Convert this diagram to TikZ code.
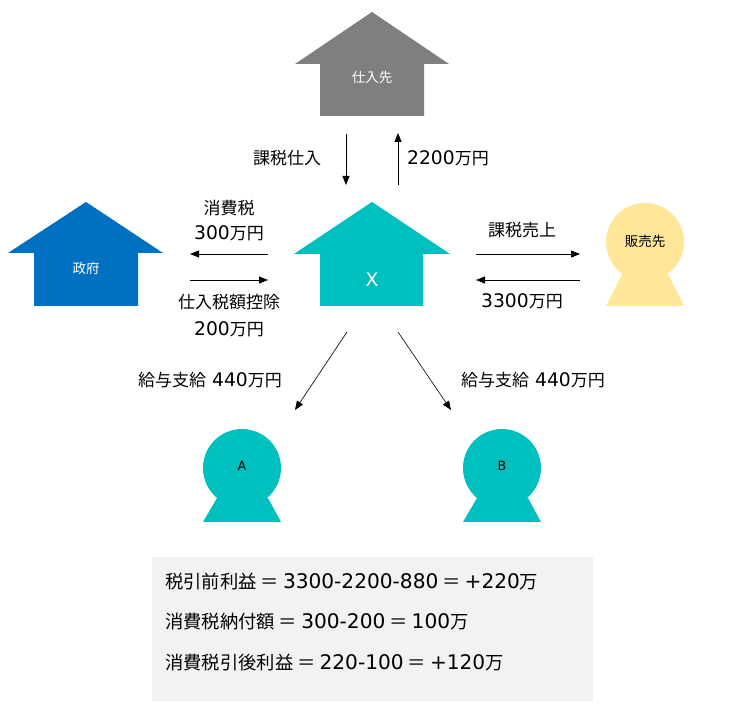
\documentclass[tikz,border=0pt]{standalone}
\usepackage{fontspec}
\setmainfont{DejaVu Sans}[Scale=1.1]
\newfontfamily\cjk{Noto Sans CJK JP}
\usetikzlibrary{arrows.meta}
\newcommand\J[1]{{\cjk #1}}
\newcommand\EQ{\hspace{4pt}{\cjk ＝}\hspace{4pt}}
\definecolor{hgray}{HTML}{7F7F7F}
\definecolor{hblue}{HTML}{0070C0}
\definecolor{hteal}{HTML}{00BFBF}
\definecolor{hyellow}{HTML}{FFE699}
\definecolor{boxgray}{HTML}{F2F2F2}
\tikzset{
  flow/.style={-{Triangle[length=9pt,width=7pt]}, line width=0.8pt, black},
  lab/.style={font=\fontsize{17}{20}\selectfont, inner sep=0pt, text=black},
  inlab/.style={font=\fontsize{13.5}{16}\selectfont, inner sep=0pt},
  sumline/.style={font=\fontsize{18.3}{22}\selectfont, inner sep=0pt, anchor=west, text=black},
}
\begin{document}
\begin{tikzpicture}[x=1pt,y=-1pt]
\useasboundingbox (0,0) rectangle (732,708);
% houses
\fill[hgray] (372,12) -- (449,64) -- (424,64) -- (424,116) -- (320,116) -- (320,64) -- (295,64) -- cycle;
\fill[hblue] (86,202) -- (163,253) -- (138,253) -- (138,306) -- (34,306) -- (34,253) -- (8,253) -- cycle;
\fill[hteal] (372,202) -- (450,254) -- (423,254) -- (423,306) -- (320,306) -- (320,254) -- (294,254) -- cycle;
\node[inlab, text=white] (shiire) at (372,77) {\J{仕入先}};
\node[inlab, text=white] (seifu) at (86,268) {\J{政府}};
\node[font=\fontsize{17}{20}\selectfont, inner sep=0pt, text=white] (X) at (372,280) {X};
% persons
\fill[hyellow] (645,242) circle (39);
\fill[hyellow] (622,274) -- (668,274) -- (684,306) -- (606,306) -- cycle;
\node[inlab, text=black] (hanbai) at (645,241) {\J{販売先}};
\fill[hteal] (242,468) circle (39);
\fill[hteal] (217,498) -- (268,498) -- (281,522) -- (203,522) -- cycle;
\node[font=\fontsize{11.5}{14}\selectfont, inner sep=0pt] (A) at (242,466) {A};
\fill[hteal] (502,468) circle (39);
\fill[hteal] (477,498) -- (528,498) -- (541,522) -- (463,522) -- cycle;
\node[font=\fontsize{11.5}{14}\selectfont, inner sep=0pt] (B) at (502,466) {B};
% connector ends
\coordinate (s1) at (346,134); \coordinate (s2) at (346,185);
\coordinate (p1) at (398,185); \coordinate (p2) at (398,133);
\coordinate (g1) at (268,254); \coordinate (g2) at (190,254);
\coordinate (g3) at (190,280); \coordinate (g4) at (268,280);
\coordinate (u1) at (476,254); \coordinate (u2) at (580,254);
\coordinate (u3) at (580,280); \coordinate (u4) at (476,280);
\coordinate (a1) at (347,332); \coordinate (a2) at (295,410);
\coordinate (b1) at (398,332); \coordinate (b2) at (451,410);
\draw[flow] (s1) -- (s2);
\draw[flow] (p1) -- (p2);
\draw[flow] (g1) -- (g2);
\draw[flow] (g3) -- (g4);
\draw[flow] (u1) -- (u2);
\draw[flow] (u3) -- (u4);
\draw[flow, line width=0.6pt] (a1) -- (a2);
\draw[flow, line width=0.6pt] (b1) -- (b2);
% labels
\node[lab] (l1) at (287,158) {\J{課税仕入}};
\node[lab] (l2) at (448,158) {2200\J{万円}};
\node[lab] (l3) at (229,208) {\J{消費税}};
\node[lab] (l4) at (229,233) {300\J{万円}};
\node[lab] (l5) at (229,302) {\J{仕入税額控除}};
\node[lab] (l6) at (229,329) {200\J{万円}};
\node[lab] (l7) at (522,230) {\J{課税売上}};
\node[lab] (l8) at (522,301) {3300\J{万円}};
\node[lab] (l9) at (210,380) {\J{給与支給} 440\J{万円}};
\node[lab] (l10) at (533,380) {\J{給与支給} 440\J{万円}};
% summary box
\fill[boxgray] (152,557) rectangle (593,701);
\node[sumline] (r1) at (165,582) {\J{税引前利益}\EQ3300-2200-880\EQ+220\J{万}};
\node[sumline] (r2) at (165,622) {\J{消費税納付額}\EQ300-200\EQ100\J{万}};
\node[sumline] (r3) at (165,663) {\J{消費税引後利益}\EQ220-100\EQ+120\J{万}};
\end{tikzpicture}
\end{document}
